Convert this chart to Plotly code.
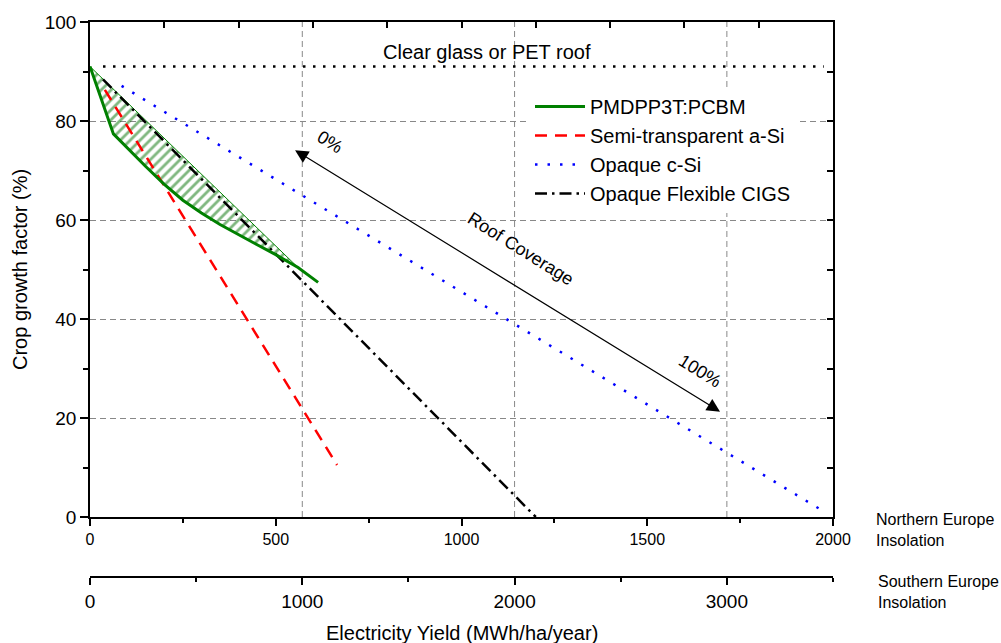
import plotly.graph_objects as go

# ---------------- data ----------------
clear_x = [35, 1975]
clear_y = [91.0, 91.0]

pcbm_x = [0, 63, 150, 200, 250, 300, 350, 400, 450, 500, 560, 614]
pcbm_y = [91.0, 77.4, 70.8, 67.2, 64.0, 61.4, 59.1, 57.0, 55.0, 53.0, 50.4, 47.4]
pcbm_upper_x = [0, 560]
pcbm_upper_y = [91.0, 50.4]

asi_x = [40, 665]
asi_y = [86.3, 10.5]

csi_x = [85, 1980]
csi_y = [87.1, 0.9]

cigs_x = [35, 1200]
cigs_y = [88.4, 0.0]

north_ticks = [0, 500, 1000, 1500, 2000]
south_ticks = [0, 1000, 2000, 3000]
south_grid = [1000, 2000, 3000]
y_ticks = [0, 20, 40, 60, 80, 100]

arrow_tail = (1700, 21.1)   # 100 %
arrow_head = (552, 74.1)    # 0 %

FONT = "Liberation Sans, Arial, sans-serif"
GREEN = "#008000"

# hatched region polygon: upper straight edge, back along lower curve
tip = pcbm_x.index(pcbm_upper_x[-1])
hatch_x = pcbm_upper_x + pcbm_x[:tip][::-1]
hatch_y = pcbm_upper_y + pcbm_y[:tip][::-1]

fig = go.Figure()

fig.add_trace(go.Scatter(
    x=hatch_x, y=hatch_y, mode="lines", fill="toself",
    fillcolor="rgba(255,255,255,0)",
    fillpattern=dict(shape="/", fgcolor="#007000", bgcolor="rgba(255,255,255,0)",
                     size=7, solidity=0.4),
    line=dict(color=GREEN, width=1), showlegend=False, hoverinfo="skip"))

fig.add_trace(go.Scatter(
    x=clear_x, y=clear_y, mode="lines",
    line=dict(color="black", width=2.5, dash="2.5px,7.5px"),
    showlegend=False, hoverinfo="skip"))

fig.add_trace(go.Scatter(
    x=asi_x, y=asi_y, mode="lines", name="Semi-transparent a-Si",
    line=dict(color="#FF0000", width=2.5, dash="12px,8px"), legendrank=2))

fig.add_trace(go.Scatter(
    x=csi_x, y=csi_y, mode="lines", name="Opaque c-Si",
    line=dict(color="#0000FF", width=2.5, dash="2.5px,10px"), legendrank=3))

fig.add_trace(go.Scatter(
    x=cigs_x, y=cigs_y, mode="lines", name="Opaque Flexible CIGS",
    line=dict(color="black", width=2.5, dash="12px,5px,2.5px,5px"), legendrank=4))

fig.add_trace(go.Scatter(
    x=pcbm_x, y=pcbm_y, mode="lines", name="PMDPP3T:PCBM",
    line=dict(color=GREEN, width=3), legendrank=1))

# vertical grid lines at southern-axis positions
for g in south_grid:
    fig.add_shape(type="line", xref="x2", yref="y", x0=g, x1=g, y0=0, y1=100,
                  line=dict(color="#888888", width=1, dash="6px,4px"), layer="below")

# paper geometry
W, H = 1001, 643
L, R, T, B = 90, 168, 22, 66
plot_h = H - T - B
ydom0 = (H - B - 517) / plot_h

def py(pix):
    return (H - B - pix) / plot_h

def px(pix):
    return (pix - L) / (W - L - R)

axis_common = dict(showline=True, linecolor="black", linewidth=1.5,
                   showgrid=False, zeroline=False, tickcolor="black",
                   tickwidth=1.5)

fig.update_layout(
    width=W, height=H,
    margin=dict(l=L, r=R, t=T, b=B, autoexpand=False),
    paper_bgcolor="white", plot_bgcolor="white",
    font=dict(family=FONT, color="black"),
    xaxis=dict(range=[0, 2000], anchor="y", tickvals=north_ticks,
               ticks="outside", ticklen=7, tickfont=dict(size=16),
               minor=dict(dtick=250, ticks="outside", ticklen=4,
                          tickcolor="black", tickwidth=1.5),
               **axis_common),
    xaxis2=dict(range=[0, 3500], overlaying="x", anchor="free", position=0,
                side="bottom", tickvals=south_ticks, ticks="outside",
                ticklen=7, tickfont=dict(size=19),
                minor=dict(dtick=500, ticks="outside", ticklen=4,
                           tickcolor="black", tickwidth=1.5),
                **axis_common),
    xaxis3=dict(range=[0, 2000], overlaying="x", anchor="y", side="top",
                dtick=200, ticks="inside", ticklen=6, showticklabels=False,
                **axis_common),
    yaxis=dict(range=[0, 100], domain=[ydom0, 1], anchor="x",
               tickvals=y_ticks, ticks="outside", ticklen=8,
               tickfont=dict(size=19),
               minor=dict(dtick=10, ticks="outside", ticklen=5,
                          tickcolor="black", tickwidth=1.5),
               showline=True, linecolor="black", linewidth=1.5,
               showgrid=True, gridcolor="#888888", gridwidth=1,
               griddash="6px,4px", zeroline=False, tickcolor="black",
               tickwidth=1.5),
    yaxis2=dict(range=[0, 100], domain=[ydom0, 1], overlaying="y",
                anchor="x", side="right", dtick=10, ticks="inside",
                ticklen=6, showticklabels=False, **axis_common),
    legend=dict(x=px(530), y=py(87), xanchor="left", yanchor="top",
                bgcolor="white", borderwidth=0, font=dict(size=20),
                itemwidth=50, traceorder="normal"),
    showlegend=True,
)

# dummy invisible traces so the extra axes are registered
fig.add_trace(go.Scatter(x=[None], y=[None], xaxis="x2", yaxis="y",
                         showlegend=False, hoverinfo="skip"))
fig.add_trace(go.Scatter(x=[None], y=[None], xaxis="x3", yaxis="y2",
                         showlegend=False, hoverinfo="skip"))

# arrow with heads on both ends
fig.add_annotation(x=arrow_head[0], y=arrow_head[1], ax=arrow_tail[0],
                   ay=arrow_tail[1], xref="x", yref="y", axref="x", ayref="y",
                   text="", showarrow=True, arrowside="end+start",
                   arrowhead=2, startarrowhead=2, arrowsize=2.2,
                   startarrowsize=2.2, arrowwidth=1.2, arrowcolor="black",
                   standoff=0, startstandoff=0)

ang = 32
fig.add_annotation(x=646, y=75.8, xref="x", yref="y", text="0%",
                   showarrow=False, textangle=ang, font=dict(size=18))
fig.add_annotation(x=1160, y=54.1, xref="x", yref="y", text="Roof Coverage",
                   showarrow=False, textangle=ang, font=dict(size=18))
fig.add_annotation(x=1642, y=29.5, xref="x", yref="y", text="100%",
                   showarrow=False, textangle=ang, font=dict(size=18))
fig.add_annotation(x=1068, y=94.0, xref="x", yref="y",
                   text="Clear glass or PET roof", showarrow=False,
                   font=dict(size=20))

# side labels and axis titles
fig.add_annotation(x=px(874), y=py(530), xref="paper", yref="paper",
                   xanchor="left", yanchor="middle", align="left",
                   text="Northern Europe<br>Insolation", showarrow=False,
                   font=dict(size=16))
fig.add_annotation(x=px(876), y=py(592), xref="paper", yref="paper",
                   xanchor="left", yanchor="middle", align="left",
                   text="Southern Europe<br>Insolation", showarrow=False,
                   font=dict(size=16))
fig.add_annotation(x=0.5, y=py(633), xref="paper", yref="paper",
                   xanchor="center", yanchor="middle",
                   text="Electricity Yield (MWh/ha/year)", showarrow=False,
                   font=dict(size=20))
fig.add_annotation(x=px(20), y=py(270), xref="paper", yref="paper",
                   xanchor="center", yanchor="middle", textangle=-90,
                   text="Crop growth factor (%)", showarrow=False,
                   font=dict(size=20))

fig.write_html("out.html",
               config={"displayModeBar": False},
               post_script="document.body.style.margin='0';"
                           "document.body.style.overflow='hidden';")
